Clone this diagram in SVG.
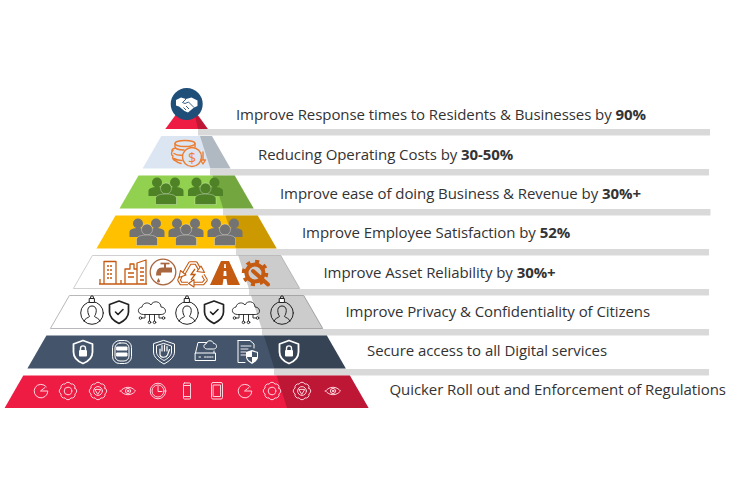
<svg xmlns="http://www.w3.org/2000/svg" xmlns:xlink="http://www.w3.org/1999/xlink" width="740" height="493" viewBox="0 0 740 493">
<style>
.lbl{font-family:"Open Sans","Liberation Sans",sans-serif;font-size:15px;letter-spacing:-.07px;fill:#333}
.lbl tspan{font-weight:700}
.bar{fill:#d9d9d9}
.sh{fill:#000;fill-opacity:.2}
.ln{fill:none;stroke:#222;stroke-width:1;stroke-linejoin:round;stroke-linecap:round}
.wl{fill:none;stroke:#fff;stroke-width:1.4;stroke-linejoin:round;stroke-linecap:round}
.pk{fill:none;stroke:#ffd3dc;stroke-width:1;stroke-linejoin:round;stroke-linecap:round}
.or{fill:none;stroke:#ed7d31;stroke-width:1.4;stroke-linejoin:round;stroke-linecap:round}
.br{fill:none;stroke:#c55a11;stroke-width:1.3;stroke-linejoin:round}
</style>
<defs>
<g id="people">
<circle cx="-9" cy="-8.500" r="5"/><circle cx="9" cy="-8.500" r="5"/>
<path d="M-17.500 5V0C-17.500-3-13-4-9-4S-1-3-1 0V5ZM1 5V0C1-3 5-4 9-4S17.500-3 17.500 0V5Z"/>
<circle cx="0" cy="-2.500" r="5.500" stroke="#fff" stroke-opacity=".55" stroke-width=".6"/>
<path d="M-10.500 13.500V7.500C-10.500 4-5 3 0 3S10.500 4 10.500 7.500V13.500Z" stroke="#fff" stroke-opacity=".55" stroke-width=".6"/>
</g>
<g id="person" class="ln">
<circle r="11.300"/>
<path d="M-3.600 1.200C-5.500-4.500-3-7 0-7S5.500-4.500 3.600 1.200C3 2.500 2.500 3 2.500 3.500C4 5 7 5 8 8.200M-3.600 1.200C-3 2.500-2.500 3-2.500 3.500C-4 5-7 5-8 8.200"/>
<rect x="-2.400" y="-14.500" width="4.800" height="4" fill="#fff"/>
<path d="M-1.400-14.500V-16C-1.400-17.600 1.400-17.600 1.400-16V-14.500"/>
</g>
<g id="shield"><path class="ln" style="stroke-width:1.700" d="M0-11L9.500-7.500V0C9.500 5 5 9 0 11.500C-5 9-9.500 5-9.500 0V-7.500Z"/><path class="ln" d="M-3.500 0L-1 2.500L4-2.500" style="stroke-width:1.600"/></g>
<g id="cloud" class="ln" style="stroke-width:.9"><path d="M-9 3.500C-14.500 3.500-15.500-3-10-4C-9-9-3-9-1-6C1-11 9-10 9-4C14.500-4 15.500 3.500 9.500 3.500Z"/><path d="M-7 3.500V7H-10M-2.500 3.500V10M2.500 3.500V10M7 3.500V7H10"/><circle cx="-11.500" cy="7" r="1.300"/><circle cx="-2.500" cy="11.300" r="1.300"/><circle cx="2.500" cy="11.300" r="1.300"/><circle cx="11.500" cy="7" r="1.300"/></g>
<g id="wshield"><path d="M0-11.500L9.500-8V0C9.500 5.500 5 9.500 0 11.500C-5 9.500-9.500 5.500-9.500 0V-8Z" fill="none" stroke="#fff" stroke-width="1.800" stroke-linejoin="round"/><rect x="-4" y="-2" width="8" height="6.500" rx="1" fill="#fff"/><path d="M-2.500-2V-3.500C-2.500-7 2.500-7 2.500-3.500V-2" fill="none" stroke="#fff" stroke-width="1.400"/></g>
<path id="cog" class="pk" d="M6.900-2.900A3.200 3.200 0 0 1 6.900 2.900A3.200 3.200 0 0 1 2.900 6.900A3.200 3.200 0 0 1-2.900 6.900A3.200 3.200 0 0 1-6.900 2.900A3.200 3.200 0 0 1-6.900-2.900A3.200 3.200 0 0 1-2.900-6.900A3.200 3.200 0 0 1 2.900-6.900A3.200 3.200 0 0 1 6.900-2.900Z"/>
<g id="cog1"><use xlink:href="#cog" href="#cog"/><circle class="pk" r="3.800"/></g>
<g id="cog2"><use xlink:href="#cog" href="#cog"/><circle class="pk" r="4.400"/><path class="pk" d="M-2.800-1.600H2.800L0 3Z"/></g>
<g id="eye" class="pk"><path d="M-7.500 0C-3.500-5 3.500-5 7.500 0C3.500 5-3.500 5-7.500 0Z"/><circle r="2.600"/><circle r=".8" fill="#ffd3dc"/></g>
<g id="gauge" class="pk"><path d="M5.300-4.200A6.800 6.800 0 1 0 6.800 0H-.5L4-3.500"/></g>
</defs>

<g id="connectors">
<rect class="bar" x="198" y="129" width="512" height="6.500"/>
<rect class="bar" x="210" y="169" width="499" height="6.500"/>
<rect class="bar" x="223" y="209" width="487.500" height="6.500"/>
<rect class="bar" x="236" y="249" width="473" height="6.500"/>
<rect class="bar" x="249" y="289" width="460" height="6.500"/>
<rect class="bar" x="262" y="329" width="447" height="6.500"/>
<rect class="bar" x="274" y="369" width="435" height="6.500"/>
</g>

<g id="tier-1">
<polygon points="186.600,100 207.900,129 165.300,129" fill="#ee1c43"/>
<polygon class="sh" points="195,116 198,129 207.900,129 199,116"/>
<circle cx="186.700" cy="104" r="16" fill="#1f4e79"/>
<path fill="#fff" d="M176 100L181 97.500L186 99L191.500 97.500L197.500 100.500V106L194 107.500L188 112.500L184.500 111L179 106.500L176 105.500Z"/>
<path fill="none" stroke="#1f4e79" stroke-width=".9" d="M186 99L182.500 102.500L185 103.500L188.500 102L194 107.500M186 106L189 109M183.500 107.500L186 110"/>
<text class="lbl" x="236" y="120">Improve Response times to Residents &amp; Businesses by <tspan>90%</tspan></text>
</g>

<g id="tier-2">
<polygon points="161.300,136 211.900,136 230.600,168.500 142.600,168.500" fill="#dce6f2"/>
<polygon class="sh" points="200,136 211.900,136 230.600,168.500 210.400,168.500"/>
<g class="or">
<ellipse cx="185" cy="143.500" rx="10" ry="3"/>
<path d="M175 143.500V147C175 149 180 150 184 150M195 143.500V147M173 150.500C171 152 171 155 173 156C172 158 173 160 176 161C177 162.500 179 163 181 163.500M174 153.500C177 155.500 181 155.500 184 155M174 158.500C177 160 180 160.500 182 160.500M176 148C173 148.500 171.500 149.500 172 151"/>
<circle cx="192" cy="157" r="9.500" fill="#dce6f2"/>
<path d="M203 152V160M200.500 160H205.500L203 164Z"/>
</g>
<text x="192" y="162.500" text-anchor="middle" font-family="'Open Sans','Liberation Sans',sans-serif" font-size="14" fill="#ed7d31">$</text>
<text class="lbl" x="258" y="159.500">Reducing Operating Costs by <tspan>30-50%</tspan></text>
</g>

<g id="tier-3">
<polygon points="138.500,175.500 234.700,175.500 253.700,208.500 119.500,208.500" fill="#92d050"/>
<polygon class="sh" points="212.600,175.500 234.700,175.500 253.700,208.500 223.200,208.500"/>
<use xlink:href="#people" href="#people" transform="translate(166,191)" fill="#4f8227"/>
<use xlink:href="#people" href="#people" transform="translate(205.500,191)" fill="#4f8227"/>
<text class="lbl" x="280" y="198.700">Improve ease of doing Business &amp; Revenue by <tspan>30%+</tspan></text>
</g>

<g id="tier-4">
<polygon points="115.500,215.500 257.700,215.500 276.700,248.500 96.500,248.500" fill="#ffc000"/>
<polygon class="sh" points="225.400,215.500 257.700,215.500 276.700,248.500 236,248.500"/>
<use xlink:href="#people" href="#people" transform="translate(147,232)" fill="#737373"/>
<use xlink:href="#people" href="#people" transform="translate(186,232)" fill="#737373"/>
<use xlink:href="#people" href="#people" transform="translate(225,232)" fill="#737373"/>
<text class="lbl" x="302" y="238">Improve Employee Satisfaction by <tspan>52%</tspan></text>
</g>

<g id="tier-5">
<polygon points="92.400,255.500 280.800,255.500 299.800,288.500 73.400,288.500" fill="#fff" stroke="#d0d0d0"/>
<polygon class="sh" points="238.200,255.500 280.800,255.500 299.800,288.500 248.800,288.500"/>
<g class="br">
<path d="M99 284H147M104 284V261.500H116V284M121 284V280M100 284V279"/>
<path d="M107 266H113M107 270H113M107 274H113M107 278H113" stroke-dasharray="2 1"/>
<path d="M125 284V269H130V264H134V269H137V284M137 284V263L146 260V284"/>
<path d="M128 273H134M128 277H134M140 268H144M140 272H144M140 276H144M140 280H144"/>
</g>
<circle cx="163" cy="272" r="12.800" fill="none" stroke="#a9673f" stroke-width="1.300"/>
<g fill="none" stroke="#a9673f">
<path stroke-width="5" d="M172 270H162C159.500 270 158.500 271.500 158.500 275.500"/>
<path stroke-width="1.700" d="M160.500 263.500H169.500"/>
<path stroke-width="2" d="M165 264V268"/>
</g>
<path fill="#a9673f" d="M158.500 278L160 281C160 283 157 283 157 281Z"/>
<g fill="none" stroke-linejoin="round">
<path stroke="#c55a11" stroke-width="3.600" d="M183 275L190 263H196L200 270M203 275L206 280L203 283.500H193M188 283.500H181L179 280L182 274"/>
<path stroke="#fff" stroke-width="1.500" d="M183 275L190 263H196L200 270M203 275L206 280L203 283.500H193M188 283.500H181L179 280L182 274"/>
</g>
<path fill="#fff" stroke="#c55a11" stroke-width="1.100" stroke-linejoin="round" d="M197 271.500L204.500 272.500L201 266ZM194 279.500V287L188.500 283.500ZM179 277.500L186 275L180.500 270.500Z"/>
<path fill="none" stroke="#c55a11" stroke-width="1.300" d="M195 269L191 274.500H195L191 280"/>
<path fill="#c55a11" d="M221 261H229L240 285H227.500L226.500 279H223.500L222.500 285H210ZM224.300 264L224 268H226L225.700 264ZM223.800 271L223.400 276H226.600L226.200 271Z"/>
<circle cx="255" cy="273" r="8.500" fill="none" stroke="#c55a11" stroke-width="4"/>
<circle cx="255" cy="273" r="11.500" fill="none" stroke="#c55a11" stroke-width="3.500" stroke-dasharray="4 5"/>
<path d="M253 271L268 284.500" stroke="#c55a11" stroke-width="4" stroke-linecap="round"/>
<text class="lbl" x="323.500" y="277.500">Improve Asset Reliability by <tspan>30%+</tspan></text>
</g>

<g id="tier-6">
<polygon points="69.400,295.500 303.800,295.500 322.800,328.500 50.400,328.500" fill="#fff" stroke="#b8b8b8"/>
<polygon class="sh" points="251,295.500 303.800,295.500 322.800,328.500 261.600,328.500"/>
<use xlink:href="#person" href="#person" x="92" y="313"/>
<use xlink:href="#shield" href="#shield" x="119" y="312"/>
<use xlink:href="#cloud" href="#cloud" x="152" y="311"/>
<use xlink:href="#person" href="#person" x="187" y="313"/>
<use xlink:href="#shield" href="#shield" x="214" y="312"/>
<use xlink:href="#cloud" href="#cloud" x="246" y="311"/>
<use xlink:href="#person" href="#person" x="282" y="313"/>
<text class="lbl" x="345.500" y="316.700">Improve Privacy &amp; Confidentiality of Citizens</text>
</g>

<g id="tier-7">
<polygon points="46.400,335.500 326.800,335.500 345.800,368.500 27.400,368.500" fill="#44546a"/>
<polygon class="sh" points="263.800,335.500 326.800,335.500 345.800,368.500 274.400,368.500"/>
<use xlink:href="#wshield" href="#wshield" x="83" y="352"/>
<g class="wl" style="stroke-width:1">
<rect x="112.500" y="340.500" width="19" height="23" rx="7"/>
<rect x="115" y="343" width="14" height="18" rx="5"/>
<path d="M117 347H127V350H117ZM117 353H127V356H117Z" fill="#fff"/>
<path d="M164 340.500L174.500 344V352C174.500 357 169.500 361 164 364C158.500 361 153.500 357 153.500 352V344Z"/>
<path d="M164 343.500L171.500 346V352C171.500 355.500 168 358.500 164 360.500C160 358.500 156.500 355.500 156.500 352V346Z"/>
<path d="M160 355V349M162 351V345.500M164.500 351V345M167 351V346.500M160 355C161 358 166 358 167.500 355L169.500 349.500" style="stroke-width:1.200"/>
<path d="M195.500 360.500H215.500V353H195.500ZM195.500 353L198 342.500H207M214 353V351"/>
<path d="M207 349C203 349 203 344 206 344C207 339.500 213 340 213.500 343.500C217 343 218 349 214 349Z"/>
<path d="M199 357H201.500M204.500 357H213" stroke-dasharray="1.500 1"/>
<path d="M238 340.500H250L254 344V348M238 340.500V362.500H245"/>
<path d="M241 346H251M241 349H248M241 352H246M241 355H246" style="stroke-width:.9"/>
</g>
<path fill="#fff" d="M252 350L258 352V357C258 360 255 362 252 364C249 362 246 360 246 357V352Z"/>
<path fill="#44546a" d="M252 351.500V357H257V352.800ZM252 357V362.500C249.500 361 247.400 359.500 247 357Z"/>
<use xlink:href="#wshield" href="#wshield" x="289" y="352"/>
<text class="lbl" x="367" y="356">Secure access to all Digital services</text>
</g>

<g id="tier-8">
<polygon points="23.300,375.500 349.900,375.500 368.600,408 4.600,408" fill="#ee1c43"/>
<polygon class="sh" points="276.600,375.500 349.900,375.500 368.600,408 287,408"/>
<use xlink:href="#gauge" href="#gauge" x="41" y="391"/>
<use xlink:href="#cog1" href="#cog1" x="68" y="391"/>
<use xlink:href="#cog2" href="#cog2" x="98" y="391"/>
<use xlink:href="#eye" href="#eye" x="128" y="391"/>
<g class="pk"><circle cx="158" cy="391" r="7.800"/><circle cx="158" cy="391" r="6"/><path d="M158 386.500V391.500H162"/>
<rect x="183.500" y="383" width="7" height="16" rx="1"/><path d="M183.500 385.500H190.500M183.500 396.500H190.500"/>
<rect x="211.500" y="382.500" width="11" height="16.500" rx="1.500"/><rect x="213.500" y="385" width="7" height="11.500"/></g>
<use xlink:href="#gauge" href="#gauge" x="245" y="391"/>
<use xlink:href="#cog1" href="#cog1" x="272" y="391"/>
<use xlink:href="#cog2" href="#cog2" x="302" y="391"/>
<use xlink:href="#eye" href="#eye" x="333" y="391"/>
<text class="lbl" x="389.500" y="395">Quicker Roll out and Enforcement of Regulations</text>
</g>
</svg>
